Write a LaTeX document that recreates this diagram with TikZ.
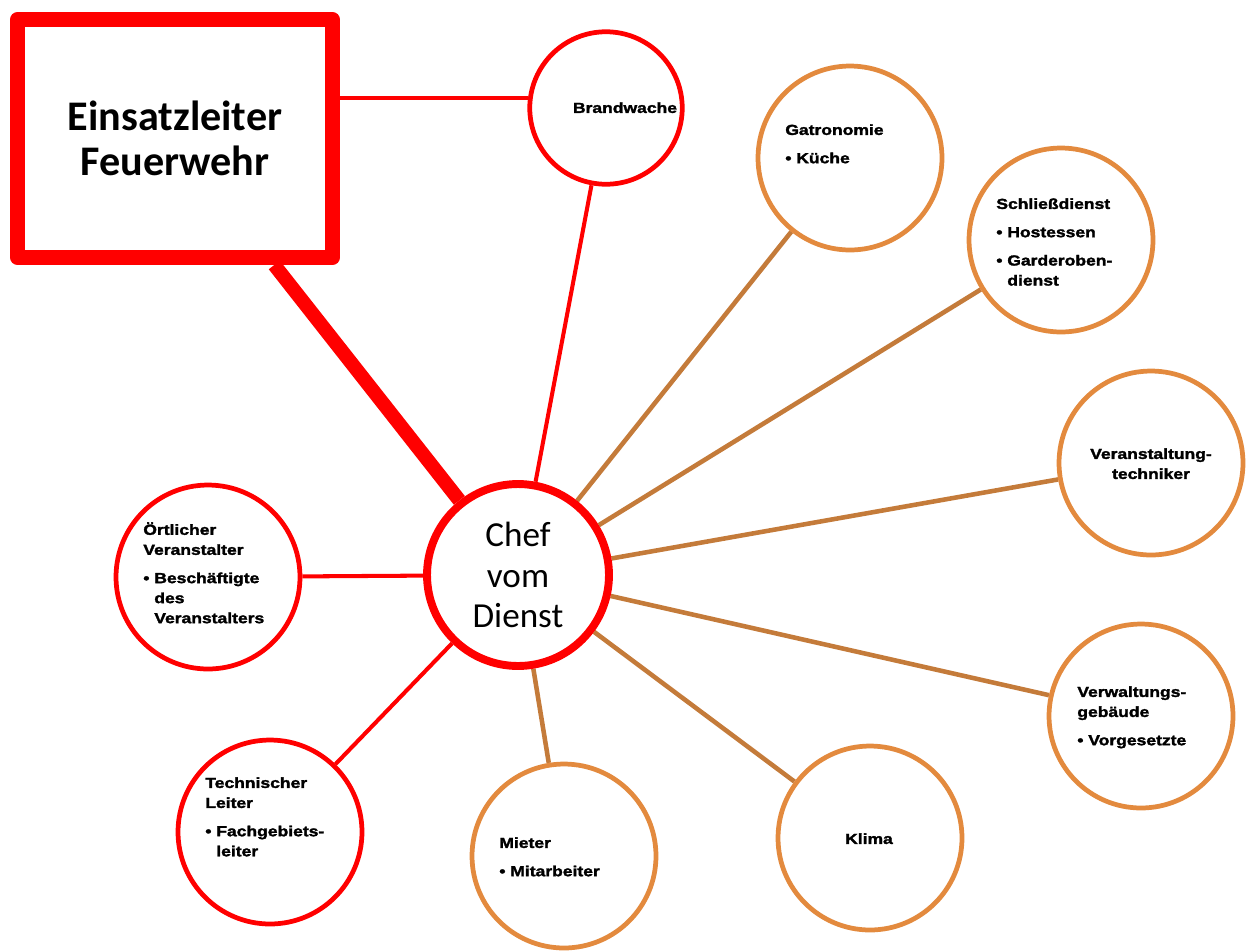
\documentclass[tikz,border=0pt]{standalone}
\usepackage{fontspec}
\setmainfont{Carlito}
\newfontfamily\labelfont[BoldFeatures={FakeStretch=1.2,FakeBold=2}]{Liberation Sans}
\usetikzlibrary{backgrounds}
\definecolor{cred}{HTML}{FF0000}
\definecolor{corange}{HTML}{E38A3E}
\definecolor{cbrown}{HTML}{C47B3A}
\newcommand{\gap}{\\[4.7pt]}
\newcommand{\ind}{\phantom{\textbullet\ }}
\tikzset{
  every picture/.style={x=0.02cm, y=-0.02cm},
  ring/.style={circle, draw=#1, fill=white, line width=2.7pt, minimum size=3.68cm, inner sep=0pt},
  ring/.default=corange,
  link/.style={draw=#1, line width=2.6pt},
  link/.default=cbrown,
  tag/.style={font=\labelfont\bfseries\fontsize{8.3}{11.4}\selectfont, align=left, inner sep=0pt, anchor=north west},
}

\begin{document}
\begin{tikzpicture}
  \useasboundingbox (0,0) rectangle (1251,951);
  \node[draw=cred, line width=8.5pt, line join=round, fill=white, minimum width=6.3cm, minimum height=4.76cm,
        font=\bfseries\fontsize{24}{26}\selectfont, align=center] (box) at (175,138.5) {Einsatzleiter\\Feuerwehr};
  \node[circle, draw=cred, line width=4.5pt, fill=white, minimum size=3.64cm,
        font=\fontsize{20}{23}\selectfont, align=center] (chef) at (518,575) {Chef\\vom\\Dienst};
  \node[ring=cred, minimum size=3.05cm] (brand) at (606,108) {};
  \foreach \n/\x/\y in {oertl/208/577, techl/270/832}
    \node[ring=cred] (\n) at (\x,\y) {};
  \foreach \n/\x/\y in {gastro/850/158, schliess/1061/240, vtech/1151/463, verw/1141/716, klima/870/838, mieter/564/856}
    \node[ring] (\n) at (\x,\y) {};

  \begin{scope}[on background layer]
    \draw[link=cred, line width=8pt] (box) -- (chef);
    \draw[link=cred, line width=2.3pt] (box.east |- brand.173) -- (brand.173);
    \foreach \n in {brand, oertl, techl}
      \draw[link=cred, line width=2.3pt] (chef) -- (\n);
    \foreach \n in {gastro, schliess, vtech, verw, klima, mieter}
      \draw[link] (chef) -- (\n);
  \end{scope}

  \node[tag, anchor=north, align=center] (brand-t) at (625,102) {Brandwache};
  \node[tag] (gastro-t) at (785,124) {Gatronomie\gap\textbullet\ Küche};
  \node[tag] (schliess-t) at (996,198) {Schließdienst\gap\textbullet\ Hostessen\gap\textbullet\ Garderoben-\\\ind dienst};
  \node[tag, anchor=north, align=center] (vtech-t) at (1151,448) {Veranstaltung-\\techniker};
  \node[tag] (verw-t) at (1077,686) {Verwaltungs-\\gebäude\gap\textbullet\ Vorgesetzte};
  \node[tag, anchor=north, align=center] (klima-t) at (869,833) {Klima};
  \node[tag] (mieter-t) at (499,837) {Mieter\gap\textbullet\ Mitarbeiter};
  \node[tag] (techl-t) at (205,777) {Technischer\\Leiter\gap\textbullet\ Fachgebiets-\\\ind leiter};
  \node[tag] (oertl-t) at (143,522) {Örtlicher\\Veranstalter\gap\textbullet\ Beschäftigte\\\ind des\\\ind Veranstalters};
\end{tikzpicture}
\end{document}
